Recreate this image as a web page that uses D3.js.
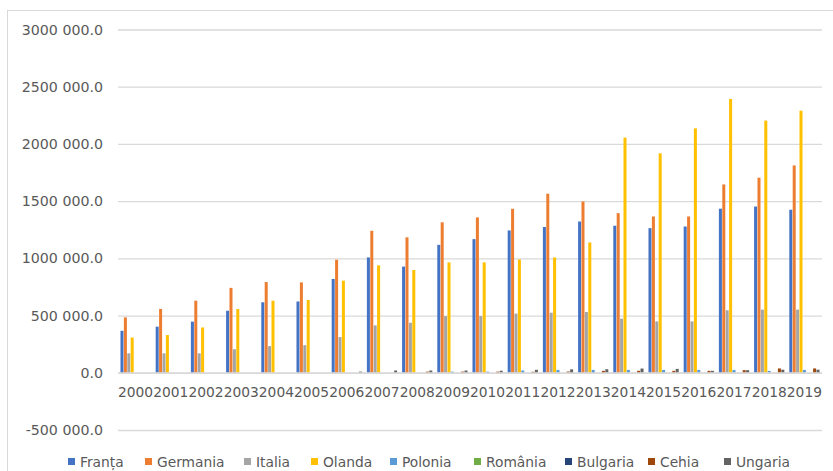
<!DOCTYPE html>
<html>
<head>
<meta charset="utf-8">
<script src="https://cdn.jsdelivr.net/npm/d3@7"></script>
<style>
  body { margin: 0; background: #fff; }
  svg { display: block; }
</style>
</head>
<body>
<svg></svg>
<script>
// years on the category axis
var years = ["2000","2001","2002","2003","2004","2005","2006","2007","2008","2009",
             "2010","2011","2012","2013","2014","2015","2016","2017","2018","2019"];

var seriesNames = ["Franța","Germania","Italia","Olanda","Polonia","România","Bulgaria","Cehia","Ungaria"];
var colors = ["#4472C4","#ED7D31","#A5A5A5","#FFC000","#5B9BD5","#70AD47","#264478","#9E480E","#636363"];

// values
var franta   = [367000, 403000, 447000, 542000, 616000, 623000, 820000, 1008000, 928000, 1118000,
                1168000, 1244000, 1274000, 1322000, 1285000, 1264000, 1278000, 1434000, 1453000, 1425000];
var germania = [484000, 558000, 630000, 742000, 793000, 790000, 988000, 1241000, 1184000, 1315000,
                1358000, 1433000, 1565000, 1497000, 1395000, 1366000, 1366000, 1646000, 1705000, 1812000];
var italia   = [170000, 170000, 170000, 206000, 233000, 241000, 312000, 414000, 437000, 495000,
                495000, 517000, 525000, 531000, 473000, 449000, 449000, 546000, 552000, 552000];
var olanda   = [308000, 330000, 396000, 557000, 630000, 636000, 805000, 939000, 898000, 965000,
                965000, 990000, 1008000, 1139000, 2055000, 1918000, 2136000, 2393000, 2204000, 2291000];
var polonia  = [0, 0, 0, 0, 0, 0, 0, 0, 0, 10000,
                10000, 20000, 25000, 25000, 25000, 25000, 25000, 24000, 16000, 25000];
var romania  = [0, 0, 0, 0, 0, 0, 0, 0, 0, 0,
                0, 0, 0, 0, 0, 0, 0, 0, 0, 0];
var bulgaria = [0, 0, 0, 0, 0, 0, 0, 0, 0, 0,
                0, 0, 0, 0, 0, 0, 0, 0, 0, 0];
var cehia    = [0, 0, 0, 0, 0, 0, 0, 0, 10000, 10000,
                10000, 9000, 11000, 17000, 17000, 17000, 17000, 23000, 38000, 38000];
var ungaria  = [0, 0, 0, 0, 0, 0, 10000, 20000, 20000, 20000,
                18000, 26000, 30000, 31000, 37000, 34000, 17000, 23000, 27000, 27000];

var yTicks = [-500000, 0, 500000, 1000000, 1500000, 2000000, 2500000, 3000000];

var allSeries = [franta, germania, italia, olanda, polonia, romania, bulgaria, cehia, ungaria];

var svgWidth = 833, svgHeight = 471;
var plotLeft = 118, plotRight = 822;

var svg = d3.select("svg")
    .attr("width", svgWidth)
    .attr("height", svgHeight)
    .style("font-family", "'DejaVu Sans', sans-serif");

// chart frame
svg.append("rect")
    .attr("x", 7.5).attr("y", 10.5)
    .attr("width", 840).attr("height", 480)
    .attr("fill", "none")
    .attr("stroke", "#D9D9D9");

var yScale = d3.scaleLinear()
    .domain([-500000, 3000000])
    .range([430, 29.5]);

var xScale = d3.scaleBand()
    .domain(years)
    .range([plotLeft, plotRight])
    .paddingInner(0.13)
    .paddingOuter(0.065);

var xInner = d3.scaleBand()
    .domain(seriesNames)
    .range([0, xScale.bandwidth()]);

var fmt = function(d) {
    // "3000 000.0" style
    var s = d3.format(".1f")(Math.abs(d));
    var parts = s.split(".");
    var intPart = parts[0];
    if (intPart.length > 3) intPart = intPart.slice(0, intPart.length - 3) + " " + intPart.slice(-3);
    return (d < 0 ? "-" : "") + intPart + "." + parts[1];
};

// gridlines + y labels
var y_axis = d3.axisLeft(yScale)
    .tickValues(yTicks)
    .tickSize(-(plotRight - plotLeft))
    .tickPadding(15)
    .tickFormat(fmt);

var gy = svg.append("g")
    .attr("transform", "translate(" + plotLeft + ",0)")
    .attr("font-size", null)
    .attr("font-family", null)
    .call(y_axis);
gy.select(".domain").remove();
gy.selectAll(".tick line").attr("stroke", "#D9D9D9").attr("stroke-width", 1.3);
gy.selectAll(".tick text")
    .attr("fill", "#595959")
    .attr("font-size", 14.2)
    .style("font-size", "14.2px")
    .style("font-family", "'DejaVu Sans', sans-serif");

// bars
var groups = svg.append("g").selectAll("g")
    .data(years)
    .enter()
    .append("g")
    .attr("transform", function(d) { return "translate(" + xScale(d) + ",0)"; });

groups.selectAll("rect")
    .data(function(d, i) {
        return seriesNames.map(function(name, s) {
            return { name: name, value: allSeries[s][i], color: colors[s] };
        });
    })
    .enter()
    .append("rect")
    .attr("x", function(d) { return xInner(d.name) + 0.2; })
    .attr("width", xInner.bandwidth() - 0.4)
    .attr("y", function(d) { return yScale(Math.max(0, d.value)); })
    .attr("height", function(d) { return Math.abs(yScale(d.value) - yScale(0)); })
    .attr("fill", function(d) { return d.color; });

// category axis at zero
var x_axis = d3.axisBottom(xScale).tickSize(0).tickPadding(14);
var gx = svg.append("g")
    .attr("transform", "translate(0," + yScale(0) + ")")
    .call(x_axis);
gx.select(".domain")
    .attr("d", "M" + plotLeft + ",0H" + plotRight)
    .attr("stroke", "#D9D9D9")
    .attr("stroke-width", 1.3);
gx.selectAll(".tick text")
    .attr("fill", "#595959")
    .style("font-size", "13.8px")
    .style("font-family", "'DejaVu Sans', sans-serif");

// legend
var legendX = [68, 145, 244, 311, 390, 474, 565, 648, 724];
var legend = svg.append("g").selectAll("g")
    .data(seriesNames)
    .enter()
    .append("g")
    .attr("transform", function(d, i) { return "translate(" + legendX[i] + ",457)"; });

legend.append("rect")
    .attr("width", 7).attr("height", 7)
    .attr("y", 1)
    .attr("fill", function(d, i) { return colors[i]; });

legend.append("text")
    .attr("x", 12)
    .attr("y", 9.5)
    .attr("fill", "#595959")
    .style("font-size", "13.8px")
    .text(function(d) { return d; });
</script>
</body>
</html>
